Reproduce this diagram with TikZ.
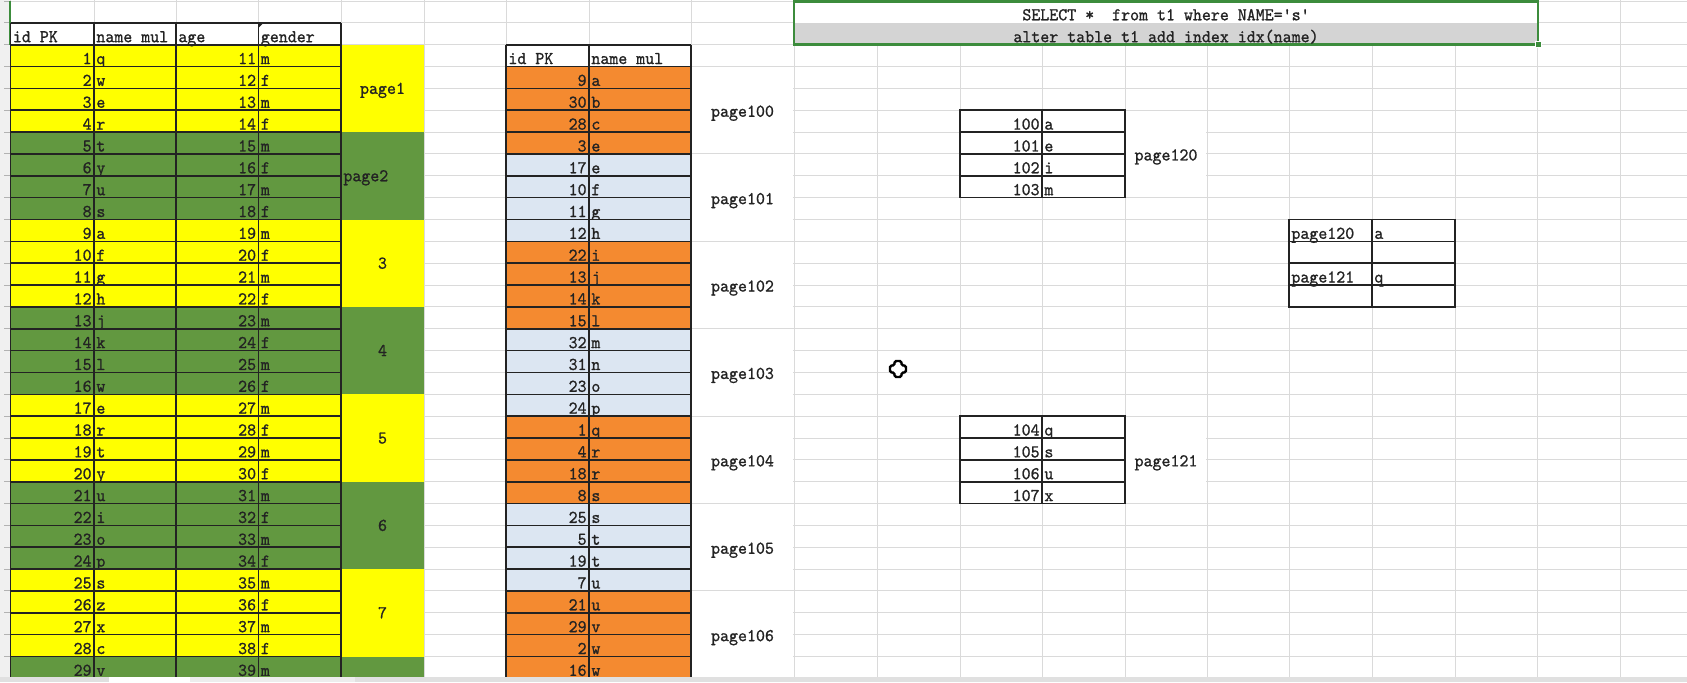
\documentclass[tikz,border=0pt]{standalone}
\usepackage{fontspec}
\usepackage{tikz}
\newfontfamily\cellfont[FakeStretch=0.95,FakeBold=1]{lmmono10-regular.otf}
\definecolor{sheetgrid}{RGB}{218,218,218}
\definecolor{pageyellow}{RGB}{255,255,0}
\definecolor{pagegreen}{RGB}{98,152,64}
\definecolor{pageorange}{RGB}{244,138,48}
\definecolor{pageblue}{RGB}{220,230,242}
\definecolor{selgreen}{RGB}{60,140,60}
\definecolor{selgray}{RGB}{212,212,212}
\definecolor{cellink}{RGB}{35,35,35}
\tikzset{
  cell/.style={inner sep=0pt, font=\cellfont\fontsize{9}{10}\selectfont, text=cellink},
  numcell/.style={cell, anchor=base east},
  txtcell/.style={cell, anchor=base west},
  midcell/.style={cell, anchor=base},
  border/.style={draw=cellink, line width=0.8pt},
}
\begin{document}
\begin{tikzpicture}[x=0.5pt, y=-0.5pt]
        \useasboundingbox (0,0) rectangle (1687,682);
        \fill[white] (0,0) rectangle (1687,682);
        % sheet grid
        \foreach \k in {0,...,31}
          \draw[sheetgrid, line width=0.5pt] (10.5,{1+\k*21.85}) -- (1687,{1+\k*21.85});
        \foreach \x in {10.5,94,176,258.5,341,424,506,589,691,794,877,960,1042,1125,1207,1289,1372,1455,1537,1620}
          \draw[sheetgrid, line width=0.5pt] (\x,0) -- (\x,677);
        \fill[black!6] (0,0) rectangle (10,677);
        \foreach \k in {0,...,31}
          \draw[black!30, line width=0.5pt] (4,{1+\k*21.85}) -- (10,{1+\k*21.85});
        \draw[selgreen, line width=1pt] (10,1) -- (10,44.7);
        % table t1, clustered by id
        \foreach \i/\n in {1/q,2/w,3/e,4/r,5/t,6/y,7/u,8/s,9/a,10/f,11/g,12/h,13/j,14/k,15/l,16/w,17/e,18/r,19/t,20/y,21/u,22/i,23/o,24/p,25/s,26/z,27/x,28/c,29/v}{
          \pgfmathsetmacro\yt{1+(\i+1)*21.85}
          \pgfmathsetmacro\yb{\yt+21.85}
          \pgfmathtruncatemacro\age{\i+10}
          \pgfmathtruncatemacro\grp{mod(int((\i-1)/4),2)}
          \ifnum\grp=0 \def\fc{pageyellow}\else\def\fc{pagegreen}\fi
          \fill[\fc] (10.5,\yt) rectangle (424,\yb);
          \node[numcell] (lid\i) at (92,{\yb-2.5}) {\i};
          \node[txtcell] (lname\i) at (96,{\yb-2.5}) {\n};
          \node[numcell] (lage\i) at (256.5,{\yb-2.5}) {\age};
          \node[txtcell] (lgen\i) at (260.5,{\yb-2.5}) {\ifodd\i m\else f\fi};
        }
        \foreach \k in {1,...,31}
          \draw[border] (10.5,{1+\k*21.85}) -- (341,{1+\k*21.85});
        \foreach \x in {10.5,94,176,258.5,341}
          \draw[border] (\x,22.85) -- (\x,678.35);
        \fill[cellink] (258.5,22.85) -- ++(5,0) -- ++(-5,5) -- cycle;
        \node[txtcell] (lhid) at (12.5,42.2) {id PK};
        \node[txtcell] (lhname) at (96,42.2) {name mul};
        \node[txtcell] (lhage) at (178,42.2) {age};
        \node[txtcell] (lhgen) at (260.5,42.2) {gender};
        \foreach \lab/\g in {page1/0,3/2,4/3,5/4,6/5,7/6}
          \node[midcell] (lpage\g) at (382.5,{1+(4+4*\g)*21.85+5.5}) {\lab};
        \node[cell, anchor=base west] (lpage1) at (343,{1+8*21.85+5.5}) {page2};
        % table t1 sorted by name
        \foreach \j/\id/\n in {1/9/a,2/30/b,3/28/c,4/3/e,5/17/e,6/10/f,7/11/g,8/12/h,9/22/i,10/13/j,11/14/k,12/15/l,13/32/m,14/31/n,15/23/o,16/24/p,17/1/q,18/4/r,19/18/r,20/8/s,21/25/s,22/5/t,23/19/t,24/7/u,25/21/u,26/29/v,27/2/w,28/16/w}{
          \pgfmathsetmacro\yt{1+(\j+2)*21.85}
          \pgfmathsetmacro\yb{\yt+21.85}
          \pgfmathtruncatemacro\grp{mod(int((\j-1)/4),2)}
          \ifnum\grp=0 \def\fc{pageorange}\else\def\fc{pageblue}\fi
          \fill[\fc] (506,\yt) rectangle (691,\yb);
          \node[numcell] (pid\j) at (587,{\yb-2.5}) {\id};
          \node[txtcell] (pname\j) at (591,{\yb-2.5}) {\n};
        }
        \foreach \k in {2,...,31}
          \draw[border] (506,{1+\k*21.85}) -- (691,{1+\k*21.85});
        \foreach \x in {506,589,691}
          \draw[border] (\x,44.7) -- (\x,678.35);
        \node[txtcell] (phid) at (508,64) {id PK};
        \node[txtcell] (phname) at (591,64) {name mul};
        \foreach \g in {0,...,6}{
          \pgfmathsetmacro\yt{1+(3+4*\g)*21.85}
          \pgfmathtruncatemacro\pg{100+\g}
          \fill[white] (692,{\yt+0.8}) rectangle (793.2,{\yt+4*21.85-0.8});
          \node[midcell] (ppage\pg) at (742.5,{\yt+2*21.85+6.5}) {page\pg};
        }
        % secondary index leaf pages
        \foreach \r/\id/\n in {6/100/a,7/101/e,8/102/i,9/103/m,20/104/q,21/105/s,22/106/u,23/107/x}{
          \pgfmathsetmacro\yb{1+\r*21.85}
          \fill[white] (960,{\yb-21.85}) rectangle (1125,\yb);
          \draw[border] (960,{\yb-21.85}) rectangle (1125,\yb);
          \draw[border] (1042,{\yb-21.85}) -- (1042,\yb);
          \node[numcell] (xid\id) at (1040,{\yb-2.5}) {\id};
          \node[txtcell] (xname\id) at (1044,{\yb-2.5}) {\n};
        }
        \foreach \r/\pg in {5/120,19/121}{
          \pgfmathsetmacro\yt{1+\r*21.85}
          \fill[white] (1125.8,{\yt+0.8}) rectangle (1206.2,{\yt+4*21.85-0.8});
          \node[midcell] (xpage\pg) at (1166,{\yt+2*21.85+6.5}) {page\pg};
        }
        % secondary index root page
        \foreach \r/\a/\b in {11/page120/a,12//,13/page121/q,14//}{
          \pgfmathsetmacro\yb{1+\r*21.85}
          \draw[border] (1289,{\yb-21.85}) rectangle (1455,\yb);
          \draw[border] (1372,{\yb-21.85}) -- (1372,\yb);
          \node[txtcell] (rkey\r) at (1291,{\yb-2.5}) {\a};
          \node[txtcell] (rval\r) at (1374,{\yb-2.5}) {\b};
        }
        % selected statements
        \fill[white] (794,1) rectangle (1538,22.85);
        \fill[selgray] (794,22.85) rectangle (1538,44.7);
        \draw[selgreen, line width=1.3pt] (794,1.5) rectangle (1538,44.7);
        \fill[selgreen, draw=white, line width=0.5pt] (1535,41.7) rectangle (1541,47.7);
        \node[midcell] (sqlsel) at (1166,20.3) {SELECT *\ \ from t1 where NAME='s'};
        \node[midcell] (sqlidx) at (1166,42.2) {alter table t1 add index idx(name)};
        % mouse cursor
        \draw[fill=white, line width=1.2pt, rounded corners=0.8pt] (898,369) ++(-3.5,-8) -- ++(7,0) -- ++(0,4.5) -- ++(4.5,0) -- ++(0,7) -- ++(-4.5,0) -- ++(0,4.5) -- ++(-7,0) -- ++(0,-4.5) -- ++(-4.5,0) -- ++(0,-7) -- ++(4.5,0) -- cycle;
        % sheet tab bar
        \fill[black!12] (0,677) rectangle (1687,682);
        \fill[white] (109,677) rectangle (190,682);
        \fill[black!7] (190,677) rectangle (355,682);
      \end{tikzpicture}
\end{document}
